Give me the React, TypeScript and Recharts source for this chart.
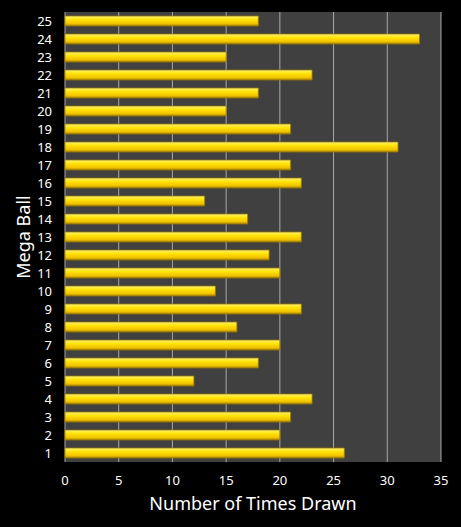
import React from "react";
import { BarChart, Bar, XAxis, YAxis, CartesianGrid, Label } from "recharts";

const balls = ["1","2","3","4","5","6","7","8","9","10","11","12","13","14","15","16","17","18","19","20","21","22","23","24","25"];
const timesDrawn = [26,20,21,23,12,18,20,16,22,14,20,19,22,17,13,22,21,31,21,15,18,23,15,33,18];
const xTicks = [0,5,10,15,20,25,30,35];

const data = balls.map((b, i) => ({ ball: b, count: timesDrawn[i] }));

const FONT = "'Noto Sans', 'Open Sans', sans-serif";

export default function App() {
  return (
    <div style={{ position: "absolute", left: 0, top: 0, width: 461, height: 527, background: "#000" }}>
      <BarChart
        width={461}
        height={527}
        data={data}
        layout="vertical"
        margin={{ top: 12, right: 20, left: 0, bottom: 5 }}
        barSize={10}
      >
        <defs>
          <linearGradient id="gold" x1="0" y1="0" x2="0" y2="1">
            <stop offset="0%" stopColor="#fff27a" />
            <stop offset="35%" stopColor="#ffe40a" />
            <stop offset="75%" stopColor="#f2c400" />
            <stop offset="100%" stopColor="#a98400" />
          </linearGradient>
        </defs>
        <CartesianGrid horizontal={false} vertical={true} stroke="#a8a8a8" fill="#404040" strokeWidth={1} />
        <XAxis
          type="number"
          domain={[0, 35]}
          ticks={xTicks}
          interval={0}
          tickLine={false}
          axisLine={false}
          tickSize={0}
          tickMargin={14}
          height={60}
          tick={{ fill: "#ffffff", fontSize: 13, fontFamily: FONT }}
        >
          <Label value="Number of Times Drawn" position="insideBottom" offset={12} fill="#ffffff" fontSize={18} fontFamily={FONT} />
        </XAxis>
        <YAxis
          type="category"
          dataKey="ball"
          reversed
          width={65}
          interval={0}
          tickLine={false}
          axisLine={false}
          tickSize={0}
          tickMargin={13}
          tick={{ fill: "#ffffff", fontSize: 13, fontFamily: FONT }}
        >
          <Label value="Mega Ball" angle={-90} position="insideLeft" offset={24} fill="#ffffff" fontSize={18} fontFamily={FONT} style={{ textAnchor: "middle" }} />
        </YAxis>
        <Bar dataKey="count" fill="url(#gold)" stroke="#9a7a00" strokeWidth={0.8} isAnimationActive={false} />
      </BarChart>
    </div>
  );
}
